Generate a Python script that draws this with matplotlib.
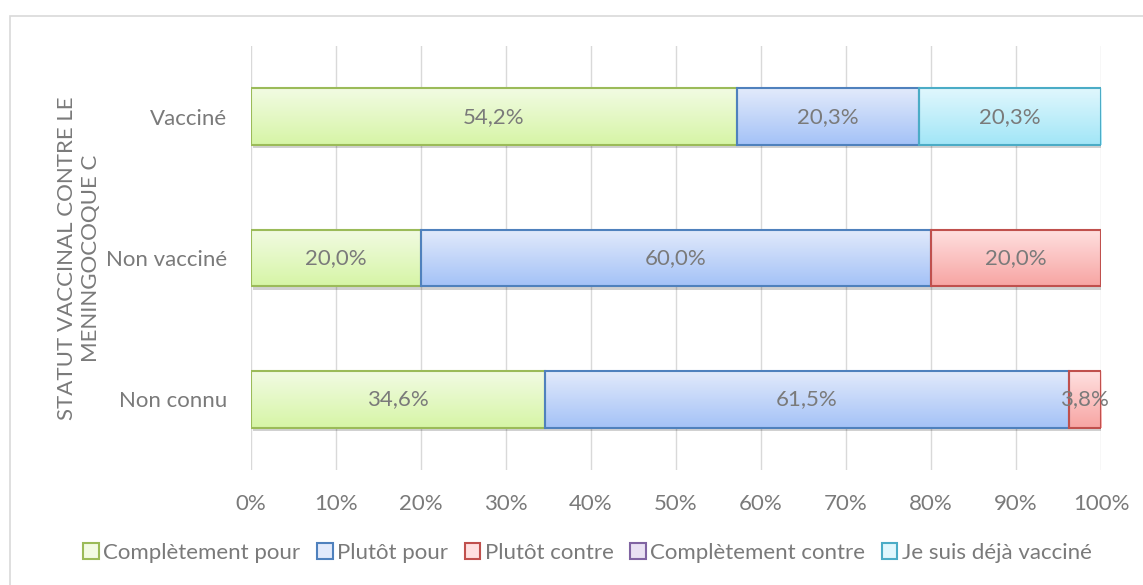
import matplotlib
matplotlib.use("Agg")
import matplotlib.pyplot as plt
import matplotlib.patheffects as pe
from matplotlib.colors import LinearSegmentedColormap
from matplotlib.patches import Rectangle
import numpy as np

plt.rcParams['font.family'] = ['Lato', 'DejaVu Sans']

categories = ["Vacciné", "Non vacciné", "Non connu"]
series_names = ["Complètement pour", "Plutôt pour", "Plutôt contre",
                "Complètement contre", "Je suis déjà vacciné"]
comp_pour = [54.2, 20.0, 34.6]
plutot_pour = [20.3, 60.0, 61.5]
plutot_contre = [0.0, 20.0, 3.8]
comp_contre = [0.0, 0.0, 0.0]
deja_vaccine = [20.3, 0.0, 0.0]
xtick_labels = ["0%", "10%", "20%", "30%", "40%", "50%", "60%", "70%", "80%", "90%", "100%"]

# (edge, top of gradient, bottom of gradient)
styles = [("#9BBB59", "#F2FBE3", "#D6F5A6"),
          ("#4F81BD", "#E2EAFB", "#A4C2F7"),
          ("#C0504D", "#FFE0E0", "#F7A5A3"),
          ("#8064A2", "#E9E1F3", "#CBBBE3"),
          ("#4BACC6", "#E0F7FD", "#A2E6F7")]

text_col = "#7A7A7A"
fs = 16
data = np.array([comp_pour, plutot_pour, plutot_contre, comp_contre, deja_vaccine])
totals = data.sum(axis=0)
pct = data / totals * 100

fig = plt.figure(figsize=(11.43, 5.85), dpi=100)
ax = fig.add_axes([251 / 1143, 1 - 470 / 585, 850 / 1143, 424 / 585])

ypos = np.arange(len(categories))[::-1]
left = np.zeros(len(categories))
grad = np.linspace(0, 1, 100).reshape(-1, 1)
for i, name in enumerate(series_names):
    edge, c_top, c_bot = styles[i]
    cmap = LinearSegmentedColormap.from_list("g%d" % i, [c_top, c_bot])
    bars = ax.barh(ypos, pct[i], left=left, height=0.4, color=c_bot, edgecolor="none",
                   zorder=2, label=name)
    for b, v in zip(bars, data[i]):
        if b.get_width() <= 0:
            b.set_visible(False)
            continue
        b.set_path_effects([pe.SimplePatchShadow(offset=(1.5, -2.5), shadow_rgbFace="#000000", alpha=0.18),
                            pe.Normal()])
        x0, y0, w, h = b.get_x(), b.get_y(), b.get_width(), b.get_height()
        im = ax.imshow(grad, cmap=cmap, aspect="auto", extent=(x0, x0 + w, y0, y0 + h),
                       origin="upper", zorder=2.5, interpolation="bilinear")
        im.set_clip_path(b)
        ax.add_patch(Rectangle((x0, y0), w, h, facecolor="none", edgecolor=edge, linewidth=1.5, zorder=3))
        ax.text(x0 + w / 2, y0 + h / 2, ("%.1f%%" % v).replace(".", ","), ha="center", va="center",
                fontsize=fs, color=text_col, zorder=4)
    left += pct[i]

ax.set_xlim(0, 100)
ax.set_ylim(-0.5, 2.5)
ax.set_xticks(np.arange(0, 101, 10))
ax.set_xticklabels(xtick_labels, fontsize=fs, color=text_col)
ax.set_yticks(ypos)
ax.set_yticklabels(categories, fontsize=fs, color=text_col)
ax.tick_params(axis="x", length=0, pad=17)
ax.tick_params(axis="y", length=0, pad=17)
ax.grid(axis="x", color="#D9D9D9", linewidth=1, zorder=0)
ax.set_axisbelow(True)
for s in ax.spines.values():
    s.set_visible(False)

ax.set_ylabel("STATUT VACCINAL CONTRE LE\nMENINGOCOQUE C", fontsize=fs, color=text_col,
              linespacing=1.25)
ax.yaxis.set_label_coords(-0.176, 0.5)

proxies = [Rectangle((0, 0), 1, 1, facecolor=s[1], edgecolor=s[0], linewidth=1.5) for s in styles]
leg = fig.legend(proxies, series_names, loc="center", bbox_to_anchor=(0.514, 1 - 553 / 585), ncol=5,
                 frameon=False, fontsize=fs, handlelength=0.7, handleheight=0.7,
                 handletextpad=0.2, columnspacing=0.75)
for t in leg.get_texts():
    t.set_color(text_col)

fig.patches.append(Rectangle((10 / 1143, -0.1), 1.2, 1.1 - 16 / 585, transform=fig.transFigure,
                             facecolor="none", edgecolor="#D9D9D9", linewidth=1.2))

fig.savefig("out.png", dpi=100)
